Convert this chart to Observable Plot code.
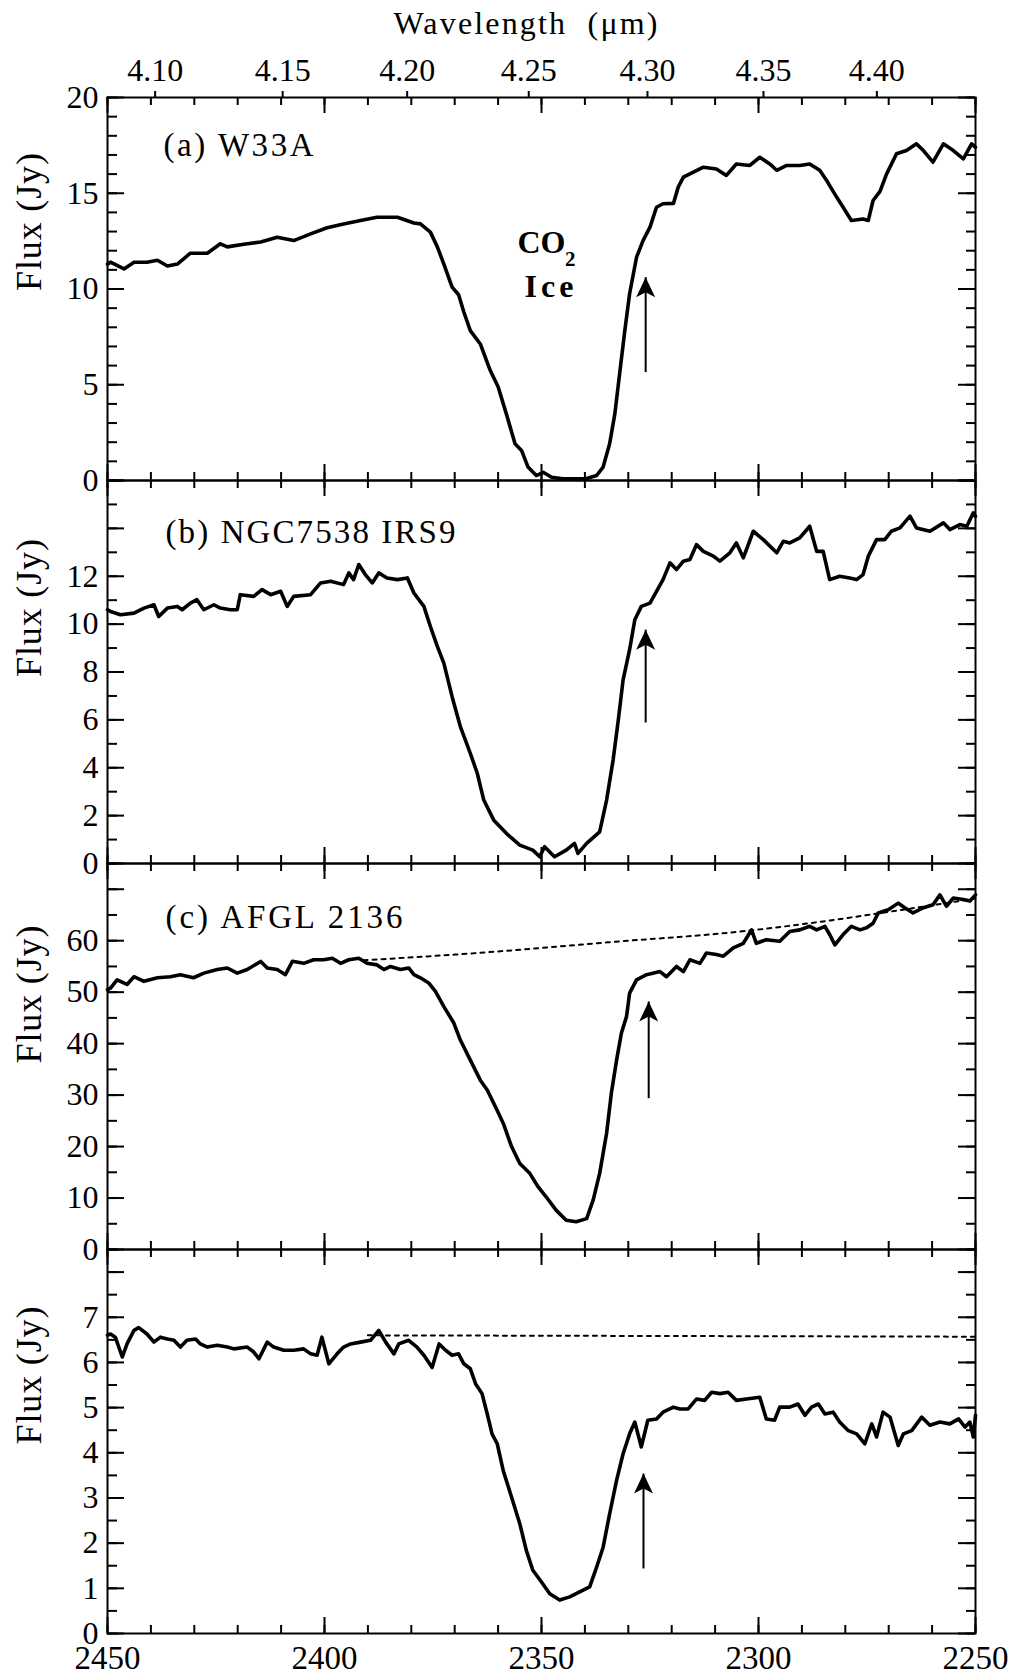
<!DOCTYPE html>
<html>
<head>
<meta charset="utf-8">
<script src="https://cdn.jsdelivr.net/npm/d3@7"></script>
<script src="https://cdn.jsdelivr.net/npm/@observablehq/plot@0.6"></script>
<style>
  html, body { margin: 0; padding: 0; background: #fff; }
  #figure { position: relative; width: 1016px; height: 1674px; }
  #figure > div { position: absolute; left: 0; width: 1016px; }
</style>
</head>
<body>
<div id="figure"></div>
<script>
// ---- Spectra: wavenumber (cm^-1) and flux (Jy) ----
const waveA = [2450.0,2449.3,2446.2,2443.9,2440.9,2438.5,2436.2,2433.9,2430.9,2427.0,2424.0,2422.4,2418.6,2414.7,2410.9,2407.1,2403.2,2399.4,2395.6,2391.7,2387.9,2383.2,2379.4,2377.9,2375.6,2374.0,2372.5,2370.6,2369.1,2367.9,2366.4,2364.1,2361.8,2360.0,2358.1,2356.1,2354.6,2353.1,2351.2,2349.6,2347.7,2345.0,2342.0,2339.6,2337.3,2335.8,2334.3,2333.1,2332.0,2330.8,2329.7,2328.1,2326.6,2325.0,2323.5,2322.0,2319.6,2318.5,2317.3,2315.0,2312.7,2309.7,2307.4,2305.1,2302.0,2299.7,2297.4,2295.8,2293.5,2290.5,2288.2,2285.9,2284.3,2283.6,2282.0,2280.5,2278.6,2275.9,2274.7,2273.6,2272.0,2270.5,2268.2,2265.9,2263.6,2262.0,2259.8,2257.4,2255.1,2252.8,2250.9,2250.0];
const fluxA = [11.3,11.4,11.05,11.4,11.4,11.5,11.2,11.3,11.87,11.87,12.36,12.2,12.34,12.45,12.7,12.53,12.88,13.2,13.4,13.58,13.75,13.75,13.45,13.4,12.97,12.2,11.3,10.1,9.7,8.8,7.83,7.13,5.74,4.9,3.48,1.92,1.57,0.7,0.26,0.43,0.17,0.09,0.09,0.1,0.26,0.7,1.92,3.48,5.57,7.83,9.75,11.66,12.53,13.23,14.27,14.45,14.47,15.32,15.84,16.1,16.36,16.27,15.93,16.53,16.45,16.88,16.53,16.2,16.45,16.45,16.53,16.2,15.67,15.4,14.8,14.27,13.58,13.66,13.58,14.62,15.1,16.0,17.06,17.23,17.58,17.23,16.62,17.58,17.23,16.8,17.58,17.4];

const waveB = [2450.0,2449.3,2447.0,2443.9,2441.6,2439.3,2438.2,2436.2,2433.9,2432.8,2430.9,2429.4,2427.8,2425.5,2424.0,2421.7,2420.1,2419.4,2416.3,2414.4,2412.4,2410.1,2408.6,2407.1,2403.2,2400.9,2398.6,2395.6,2394.4,2393.3,2392.1,2390.6,2389.0,2387.5,2385.6,2383.2,2380.9,2379.4,2377.1,2375.6,2374.0,2372.5,2370.6,2368.7,2366.4,2364.8,2363.3,2361.0,2358.1,2355.0,2352.0,2350.4,2349.3,2347.0,2344.3,2342.4,2341.6,2339.6,2336.6,2335.0,2333.5,2332.3,2331.2,2329.7,2328.5,2327.0,2325.0,2323.5,2322.0,2320.4,2318.9,2317.3,2315.8,2314.3,2312.7,2310.4,2308.9,2306.6,2305.1,2303.5,2301.2,2298.9,2295.8,2294.3,2292.8,2290.5,2288.2,2286.6,2285.1,2283.6,2281.3,2279.0,2277.4,2275.9,2274.7,2272.8,2270.9,2269.4,2267.4,2265.1,2263.6,2260.5,2257.4,2255.9,2253.6,2252.0,2250.5,2250.0];
const fluxB = [10.6,10.53,10.39,10.46,10.67,10.81,10.32,10.67,10.74,10.6,10.88,11.02,10.6,10.81,10.67,10.6,10.6,11.23,11.16,11.44,11.23,11.37,10.74,11.16,11.23,11.72,11.79,11.65,12.14,11.86,12.49,12.07,11.72,12.14,11.93,11.86,11.93,11.3,10.74,9.9,9.07,8.37,6.97,5.72,4.6,3.77,2.65,1.81,1.26,0.77,0.56,0.28,0.7,0.28,0.56,0.84,0.42,0.84,1.32,2.65,4.32,6.0,7.67,8.93,10.18,10.74,10.88,11.37,11.86,12.56,12.28,12.63,12.7,13.32,13.04,12.84,12.63,12.98,13.39,12.77,13.88,13.53,12.98,13.46,13.39,13.6,14.09,13.04,13.04,11.86,12.0,11.93,11.86,12.07,12.84,13.53,13.53,13.88,14.02,14.51,14.02,13.88,14.23,13.95,14.16,14.09,14.65,14.5];

const waveC = [2450.0,2449.3,2447.8,2445.5,2443.9,2441.6,2438.5,2435.5,2433.2,2430.2,2427.8,2424.7,2422.4,2420.1,2417.8,2414.7,2413.2,2410.9,2409.0,2407.4,2404.8,2402.5,2400.2,2398.2,2396.3,2394.4,2392.1,2390.2,2387.9,2386.3,2384.8,2382.5,2380.6,2379.4,2377.9,2376.0,2374.4,2372.5,2370.2,2368.7,2366.4,2364.1,2362.5,2360.2,2358.8,2356.9,2355.0,2352.7,2350.8,2348.9,2346.6,2344.3,2342.0,2339.6,2338.1,2336.6,2335.0,2333.9,2332.7,2331.6,2330.4,2329.7,2328.1,2325.8,2322.7,2321.2,2318.9,2317.3,2315.8,2313.5,2312.0,2309.7,2308.1,2305.8,2303.5,2301.6,2300.5,2298.2,2295.1,2292.8,2290.5,2288.2,2286.6,2284.7,2283.6,2282.4,2280.5,2278.6,2276.6,2275.1,2273.6,2272.4,2270.1,2267.8,2266.3,2264.4,2262.0,2259.8,2258.2,2256.7,2255.1,2252.8,2251.3,2250.0];
const fluxC = [50.5,50.8,52.4,51.5,53.0,52.1,52.8,53.0,53.4,52.8,53.7,54.4,54.7,53.7,54.4,55.97,54.7,54.4,53.4,56.0,55.6,56.3,56.3,56.6,55.6,56.3,56.6,55.6,55.3,54.4,55.0,54.4,54.7,53.4,52.8,51.8,50.1,47.2,44.0,40.7,36.8,32.9,31.0,27.0,24.5,20.0,16.7,14.8,12.2,10.2,7.6,5.7,5.4,6.0,9.6,14.8,22.6,30.4,36.8,42.0,45.3,49.8,52.4,53.4,54.0,53.0,55.0,54.0,56.3,55.6,57.6,57.3,57.0,58.6,59.5,62.1,59.5,60.2,59.9,61.8,62.1,62.8,62.1,62.8,61.2,59.2,61.2,62.8,62.1,62.5,63.4,65.4,66.0,67.3,66.4,65.4,66.4,67.0,68.9,66.7,68.3,68.0,67.7,68.9];

const waveD = [2450.0,2449.3,2448.2,2446.6,2445.5,2443.9,2442.8,2440.9,2439.3,2437.8,2436.2,2434.7,2433.2,2431.7,2429.7,2428.6,2427.0,2424.7,2422.4,2420.9,2417.8,2416.3,2415.1,2413.2,2411.7,2409.4,2407.1,2404.8,2403.2,2401.7,2400.6,2399.0,2397.1,2395.6,2394.0,2391.7,2389.4,2387.5,2385.9,2384.0,2382.9,2380.6,2378.7,2377.1,2375.2,2373.6,2372.1,2370.6,2369.1,2367.9,2366.4,2365.2,2363.7,2362.5,2361.4,2360.2,2358.8,2357.0,2355.0,2353.5,2352.0,2350.0,2348.1,2345.8,2343.5,2341.2,2338.9,2337.3,2335.8,2334.3,2332.7,2331.2,2329.7,2328.5,2327.0,2325.5,2323.5,2322.0,2319.6,2318.1,2316.2,2314.3,2312.4,2310.8,2308.9,2307.0,2305.1,2302.8,2299.7,2298.2,2296.3,2295.1,2292.8,2290.9,2289.3,2287.8,2286.2,2284.7,2282.8,2281.3,2279.3,2277.4,2275.5,2273.9,2272.8,2271.3,2269.7,2267.8,2266.6,2264.7,2262.4,2260.5,2258.2,2255.9,2253.9,2252.4,2251.3,2250.5,2250.0];
const fluxD = [6.6,6.63,6.56,6.12,6.41,6.71,6.77,6.63,6.45,6.56,6.52,6.49,6.34,6.49,6.52,6.41,6.34,6.38,6.34,6.30,6.34,6.23,6.08,6.45,6.34,6.27,6.27,6.30,6.19,6.16,6.56,5.97,6.19,6.34,6.41,6.45,6.49,6.71,6.45,6.19,6.41,6.49,6.34,6.16,5.89,6.41,6.27,6.16,6.19,5.97,5.86,5.53,5.31,4.86,4.42,4.2,3.6,3.05,2.43,1.84,1.4,1.14,0.88,0.74,0.81,0.92,1.03,1.47,1.91,2.65,3.39,3.98,4.42,4.68,4.13,4.72,4.75,4.9,5.01,4.97,4.97,5.19,5.16,5.34,5.31,5.34,5.16,5.19,5.23,4.75,4.72,5.01,5.01,5.08,4.83,5.01,5.08,4.86,4.9,4.68,4.49,4.42,4.2,4.64,4.35,4.9,4.79,4.16,4.42,4.49,4.79,4.61,4.68,4.64,4.75,4.57,4.68,4.35,4.83];

// ---- Continuum fits (dotted) for panels (c) and the bottom panel ----
const contWaveC = [2391, 2370, 2350, 2330, 2310, 2290, 2270, 2250];
const contFluxC = [56.2, 57.3, 58.6, 60.0, 61.3, 63.2, 65.6, 68.2];
const contWaveD = [2390, 2250];
const contFluxD = [6.6, 6.57];

// ---- Arrows marking the feature on the blue wing ----
const arrowWave = [2326.0, 2326.0, 2325.3, 2326.5];
const arrowTip  = [10.62, 9.77, 48.2, 3.54];
const arrowTail = [5.66, 5.89, 29.4, 1.44];

// ---- Labels and ticks ----
const panelNames = ["(a) W33A", "(b) NGC7538 IRS9", "(c) AFGL 2136", ""];
const yLabelTicks = [[0, 5, 10, 15, 20], [0, 2, 4, 6, 8, 10, 12], [0, 10, 20, 30, 40, 50, 60], [0, 1, 2, 3, 4, 5, 6, 7]];
const yMax = [20, 16, 75, 8.5];
const yMinorStep = [1, 1, 5, 0.5];
const yMajorStep = [5, 2, 10, 1];
const waveLabelTicks = [2450, 2400, 2350, 2300, 2250];
const wavelengthTicks = [4.10, 4.15, 4.20, 4.25, 4.30, 4.35, 4.40];
const iceLabel = {wave: 2350.0, flux: 11.87, text: "CO"};
const iceSub = {wave: 2343.4, flux: 11.2, text: "2"};
const iceLabel2 = {wave: 2348.3, flux: 9.57, text: "Ice"};

// ---- Layout ----
const W = 1016, ML = 107, MR = 41;
const frameW = W - ML - MR;
const frameTops = [97, 480, 863, 1249];
const frameHeights = [383, 383, 386, 384];
const nameOffsets = [[56, 58], [58, 62], [58, 64], [0, 0]];
const fluxLabelShift = [2, 5, 7, 3];
// set widths for the longer labels (px)
const textWidths = {
  "Flux (Jy)": 138, "(a) W33A": 150, "(b) NGC7538 IRS9": 290, "(c) AFGL 2136": 237,
  "Wavelength  (\u03bcm)": 264, "Ice": 49
};

const waves = [waveA, waveB, waveC, waveD];
const fluxes = [fluxA, fluxB, fluxC, fluxD];

const xMinor = d3.range(2450, 2249, -10);
const xMajor = d3.range(2450, 2249, -50);

// Filled arrowhead with its tip at the symbol origin
const arrowHead = {
  draw(context, size) {
    const s = Math.sqrt(size / Math.PI) / 10;
    context.moveTo(0, 0);
    context.lineTo(9.5 * s, 20 * s);
    context.lineTo(0, 15 * s);
    context.lineTo(-9.5 * s, 20 * s);
    context.closePath();
  }
};

const fig = document.getElementById("figure");

frameTops.forEach((top, i) => {
  const first = i === 0, last = i === frameTops.length - 1;
  const H = frameHeights[i];
  const mt = first ? 97 : 0, mb = last ? 41 : 0;
  const spectrum = waves[i].map((w, j) => ({wave: w, flux: fluxes[i][j]}));
  const yMinor = d3.range(0, yMax[i] + 1e-9, yMinorStep[i]);
  const yMajor = d3.range(0, yMax[i] + 1e-9, yMajorStep[i]);
  const arrow = [{wave: arrowWave[i], tip: arrowTip[i], tail: arrowTail[i]}];

  const marks = [
    // inward ticks on all four sides
    Plot.tickX(xMinor, {x: d => d, insetBottom: H - 8, strokeWidth: 2}),
    Plot.tickX(xMajor, {x: d => d, insetBottom: H - 16, strokeWidth: 2}),
    Plot.tickX(xMinor, {x: d => d, insetTop: H - 8, strokeWidth: 2}),
    Plot.tickX(xMajor, {x: d => d, insetTop: H - 16, strokeWidth: 2}),
    Plot.tickY(yMinor, {y: d => d, insetRight: frameW - 10, strokeWidth: 2}),
    Plot.tickY(yMajor, {y: d => d, insetRight: frameW - 17, strokeWidth: 2}),
    Plot.tickY(yMinor, {y: d => d, insetLeft: frameW - 9, strokeWidth: 2}),
    Plot.tickY(yMajor, {y: d => d, insetLeft: frameW - 17, strokeWidth: 2}),
    Plot.frame({stroke: "black", strokeWidth: 2}),
    Plot.axisY(yLabelTicks[i], {anchor: "left", tickSize: 0, tickPadding: 9, fontSize: 32, tickFormat: "d", label: null}),
    // axis title, centred on the middle of the flux range
    Plot.text([yMax[i] / 2], {y: d => d, text: () => "Flux (Jy)", frameAnchor: "left", dx: -78, dy: fluxLabelShift[i], rotate: -90, fontSize: 36}),
    Plot.line(spectrum, {x: "wave", y: "flux", stroke: "black", strokeWidth: 3.6, strokeLinejoin: "round", strokeLinecap: "round"}),
    Plot.link(arrow, {x1: "wave", x2: "wave", y1: "tail", y2: "tip", strokeWidth: 2, stroke: "black"}),
    Plot.dot(arrow, {x: "wave", y: "tip", symbol: arrowHead, r: 10, fill: "black", stroke: "none"})
  ];

  if (panelNames[i]) {
    marks.push(Plot.text([panelNames[i]], {text: d => d, frameAnchor: "top-left", textAnchor: "start", lineAnchor: "bottom",
      dx: nameOffsets[i][0], dy: nameOffsets[i][1], fontSize: 33}));
  }
  if (i === 2) {
    const cont = contWaveC.map((w, j) => ({wave: w, flux: contFluxC[j]}));
    marks.push(Plot.line(cont, {x: "wave", y: "flux", curve: "natural", stroke: "black", strokeWidth: 2, strokeDasharray: "4,5"}));
  }
  if (i === 3) {
    const cont = contWaveD.map((w, j) => ({wave: w, flux: contFluxD[j]}));
    marks.push(Plot.line(cont, {x: "wave", y: "flux", stroke: "black", strokeWidth: 2, strokeDasharray: "4,5"}));
    marks.push(Plot.axisX(waveLabelTicks, {anchor: "bottom", tickSize: 0, tickPadding: 12, fontSize: 33, tickFormat: "d", label: null}));
  }
  if (first) {
    marks.push(Plot.axisX(wavelengthTicks.map(l => 1e4 / l), {anchor: "top", tickSize: 7, tickPadding: 10, strokeWidth: 2,
      tickFormat: v => (1e4 / v).toFixed(2), fontSize: 32, label: null}));
    marks.push(Plot.text(["Wavelength  (\u03bcm)"], {text: d => d, frameAnchor: "top", lineAnchor: "bottom", dx: -16, dy: -64, fontSize: 32}));
    marks.push(Plot.text([iceLabel], {x: "wave", y: "flux", text: "text", lineAnchor: "bottom", fontSize: 32, fontWeight: "bold"}));
    marks.push(Plot.text([iceSub], {x: "wave", y: "flux", text: "text", lineAnchor: "bottom", fontSize: 21, fontWeight: "bold"}));
    marks.push(Plot.text([iceLabel2], {x: "wave", y: "flux", text: "text", lineAnchor: "bottom", fontSize: 32, fontWeight: "bold"}));
  }

  const chart = Plot.plot({
    width: W,
    height: mt + H + mb,
    marginLeft: ML, marginRight: MR, marginTop: mt, marginBottom: mb,
    x: {domain: [2450, 2250], axis: null, label: null},
    y: {domain: [0, yMax[i]], axis: null, label: null},
    style: {overflow: "visible", background: "none", fontFamily: "'Liberation Serif', 'Times New Roman', serif", color: "black"},
    marks
  });

  // stretch the longer labels to their set widths
  d3.select(chart).selectAll("text").each(function () {
    const w = textWidths[this.textContent];
    if (w) {
      this.setAttribute("textLength", w);
      this.setAttribute("lengthAdjust", "spacing");
    }
  });

  const holder = document.createElement("div");
  holder.style.top = (top - mt) + "px";
  holder.appendChild(chart);
  fig.appendChild(holder);
});
</script>
</body>
</html>
